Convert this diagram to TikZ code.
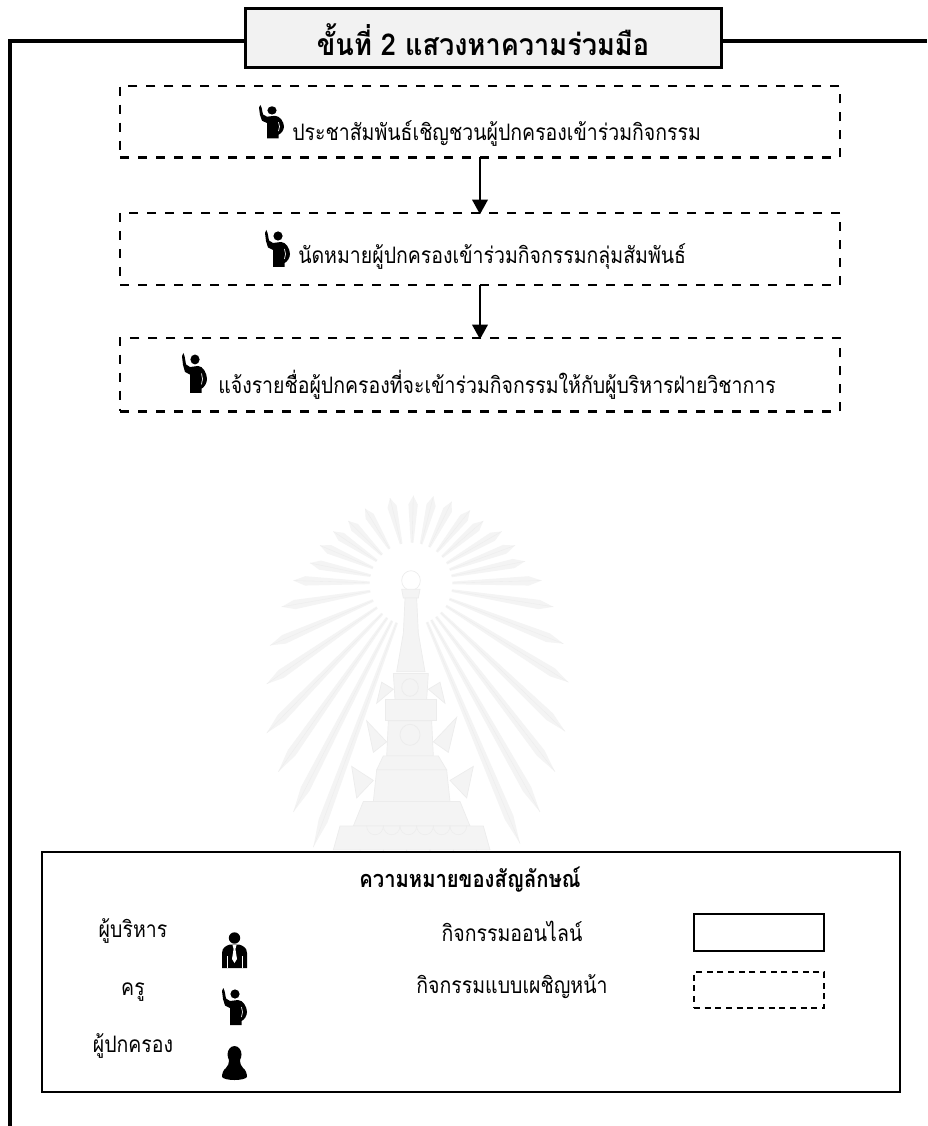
\documentclass[tikz,border=0pt]{standalone}
\usepackage{fontspec}
\usetikzlibrary{arrows.meta,calc}
\newfontfamily\thaifont[Script=Thai,FakeStretch=0.86]{Loma}
\newfontfamily\thaititle[Script=Thai,FakeStretch=0.9]{Loma}
\definecolor{wm}{gray}{0.955}
\definecolor{wmline}{gray}{0.925}
\tikzset{
  dashbox/.style={draw=black,line width=1.9pt,dash pattern=on 7pt off 6.5pt,outer sep=0pt,inner sep=0pt,anchor=north west},
  body/.style={inner sep=0pt,anchor=west,font=\thaifont\fontsize{17}{20}\selectfont},
  legend/.style={inner sep=0pt,anchor=center,font=\thaifont\fontsize{17}{20}\selectfont},
  flow/.style={line width=1.9pt,-{Triangle[width=11.5pt,length=11pt]},shorten >=-1pt},
  wmshape/.style={draw=wmline,fill=wm,line width=0.5pt},
  pics/teacher/.style={code={
    \fill[black] (13,6) circle (4.6);
    \fill[black] (0,3) -- (1.3,0) -- (2.6,3) -- (4,10.5) -- (8,13) -- (16,12) .. controls (21,12) and (25,19) .. (25,24) .. controls (25,28) and (22,32) .. (19.5,33) -- (19.5,37) -- (8,37) -- (8,20) -- (3,17.5) -- (1,11) -- cycle;
    \draw[white,line width=0.5pt] (19.5,19) -- (20.5,24) -- (19.5,29);
  }},
  pics/executive/.style={code={
    \fill[black] (12.5,6) circle (5.7);
    \fill[black] (0,36) -- (0,21) .. controls (0,15) and (5,13.5) .. (8,12.5) -- (17,12.5) .. controls (20,13.5) and (25,15) .. (25,21) -- (25,36) -- cycle;
    \fill[white] (10.5,13) -- (14.5,13) -- (13.4,17) -- (15,27) -- (12.5,31) -- (10,27) -- (11.6,17) -- cycle;
    \draw[white,line width=0.3pt] (5,24) -- (5,36) (20,24) -- (20,36);
  }},
  pics/parent/.style={code={
    \fill[black] (12.5,8.5) ellipse (7 and 8.5);
    \fill[black] (7,12) .. controls (7,18) and (6,20) .. (4,22) .. controls (1,24) and (0,28) .. (0,31) .. controls (3,35) and (22,35) .. (25,31) .. controls (25,28) and (24,24) .. (21,22) .. controls (19,20) and (18,18) .. (18,12) -- cycle;
  }}
}
\begin{document}
\begin{tikzpicture}[x=0.75pt,y=-0.75pt,line join=miter]
\useasboundingbox (0,0) rectangle (927,1126);
\fill[white] (0,0) rectangle (927,1126);
% watermark
\begin{scope}[shift={(250,300)},x=0.25pt,y=-0.263pt]
  \coordinate (c) at (483,810);
  \foreach \a/\b in {550/560,490/558,420/565,345/595,295/630,250/660,210/700,180/750,130/800,95/875,60/985,50/1095,50/1235,85/1345,130/1460,190/1560,810/1550,870/1460,915/1345,945/1230,955/1090,940/980,910/875,875/800,825/745,795/700,755/660,700/630,660/600,605/575}{
    \coordinate (t) at (\a,\b);
    \coordinate (b0) at ($(c)!31pt!(t)$);
    \coordinate (m) at ($(c)!0.9!(t)$);
    \fill[wm] ($(b0)!1pt!90:(t)$) -- ($(m)!3.5pt!90:(t)$) -- (t) -- ($(m)!3.5pt!-90:(t)$) -- ($(b0)!1pt!-90:(t)$) -- cycle;
    \draw[wmline,line width=0.25pt] (b0) -- (t);
  }
  \draw[wmline,line width=0.5pt,fill=white] (483,800) circle (28);
  \path[wmshape] (455,825) -- (510,825) -- (505,850) -- (460,850) -- cycle;
  \path[wmshape] (465,850) -- (500,850) -- (505,950) -- (525,1060) -- (440,1060) -- (460,950) -- cycle;
  \path[wmshape] (430,1065) -- (535,1065) -- (530,1140) -- (435,1140) -- cycle;
  \draw[wmline,line width=0.6pt] (480,1105) circle (25);
  \path[wmshape] (430,1110) -- (380,1150) -- (395,1090) -- cycle (535,1110) -- (585,1150) -- (570,1090) -- cycle;
  \path[wmshape] (405,1140) -- (560,1140) -- (560,1200) -- (405,1200) -- cycle;
  \path[wmshape] (415,1200) -- (545,1200) -- (550,1300) -- (410,1300) -- cycle;
  \draw[wmline,line width=0.6pt] (480,1240) circle (30);
  \path[wmshape] (410,1260) -- (350,1200) -- (370,1290) -- cycle (550,1260) -- (620,1190) -- (595,1290) -- cycle;
  \path[wmshape] (400,1300) -- (565,1300) -- (590,1340) -- (380,1340) -- cycle;
  \path[wmshape] (380,1340) -- (590,1340) -- (600,1430) -- (370,1430) -- cycle;
  \path[wmshape] (370,1370) -- (305,1330) -- (320,1420) -- cycle (600,1370) -- (670,1330) -- (650,1420) -- cycle;
  \path[wmshape] (340,1430) -- (630,1430) -- (660,1500) -- (310,1500) -- cycle;
  \path[wmshape] (270,1500) -- (700,1500) -- (720,1568) -- (250,1568) -- cycle;
  \foreach \q in {350,400,450,500,550,600}{\draw[wmline,line width=0.4pt] (\q,1500) arc (180:0:25);}
  \foreach \q in {330,400,470,540,610}{\draw[wmline,line width=0.4pt] (\q,1568) arc (180:0:35);}
\end{scope}
% frame
\coordinate (frameBottom) at (10,1126);
\coordinate (frameCorner) at (10,41);
\coordinate (frameRight) at (927,41);
\draw[line width=3.2pt] (frameBottom) -- (frameCorner) -- (frameRight);
% title
\node[draw=black,fill=black!5,line width=2.6pt,minimum width=357pt,minimum height=44pt,inner sep=0pt,outer sep=0pt] (title) at (483.5,38) {};
\node[inner sep=0pt,font=\thaititle\bfseries\fontsize{22.6}{26}\selectfont] (titletext) at (483,40) {ขั้นที่ 2 แสวงหาความร่วมมือ};
% flow boxes
\node[dashbox,minimum width=540pt,minimum height=53.5pt] (box1) at (120,86) {};
\node[dashbox,minimum width=540pt,minimum height=54pt] (box2) at (120,213) {};
\node[dashbox,minimum width=540pt,minimum height=55pt] (box3) at (120,338) {};
\pic[yscale=0.9] at (259,105) {teacher};
\pic at (265,230) {teacher};
\pic[yscale=1.08] at (182,353) {teacher};
\node[body] (t1) at (292,134) {ประชาสัมพันธ์เชิญชวนผู้ปกครองเข้าร่วมกิจกรรม};
\node[body] (t2) at (298,257) {นัดหมายผู้ปกครองเข้าร่วมกิจกรรมกลุ่มสัมพันธ์};
\node[body] (t3) at (218,385) {แจ้งรายชื่อผู้ปกครองที่จะเข้าร่วมกิจกรรมให้กับผู้บริหารฝ่ายวิชาการ};
\draw[flow] (box1.south -| 480,0) -- (box2.north -| 480,0);
\draw[flow] (box2.south -| 480,0) -- (box3.north -| 480,0);
% legend
\node[draw=black,fill=white,line width=1.8pt,minimum width=643.5pt,minimum height=180pt,inner sep=0pt,outer sep=0pt,anchor=north west] (legendbox) at (42,852) {};
\node[legend,font=\thaifont\bfseries\fontsize{17.6}{20}\selectfont] (ltitle) at (470,880) {ความหมายของสัญลักษณ์};
\node[legend] (l1) at (133,931) {ผู้บริหาร};
\node[legend] (l2) at (133,992) {ครู};
\node[legend] (l3) at (133,1046) {ผู้ปกครอง};
\node[legend] (l4) at (512,931) {กิจกรรมออนไลน์};
\node[legend] (l5) at (512,987) {กิจกรรมแบบเผชิญหน้า};
\pic at (222,932) {executive};
\pic at (222,988) {teacher};
\pic at (222,1046) {parent};
\node[draw=black,line width=1.4pt,minimum width=97.5pt,minimum height=27.5pt,inner sep=0pt,outer sep=0pt,anchor=north west] (ls) at (694,914) {};
\node[draw=black,line width=1.3pt,dash pattern=on 4.5pt off 3.5pt,minimum width=97.5pt,minimum height=27pt,inner sep=0pt,outer sep=0pt,anchor=north west] (ld) at (694,972) {};
\end{tikzpicture}
\end{document}
